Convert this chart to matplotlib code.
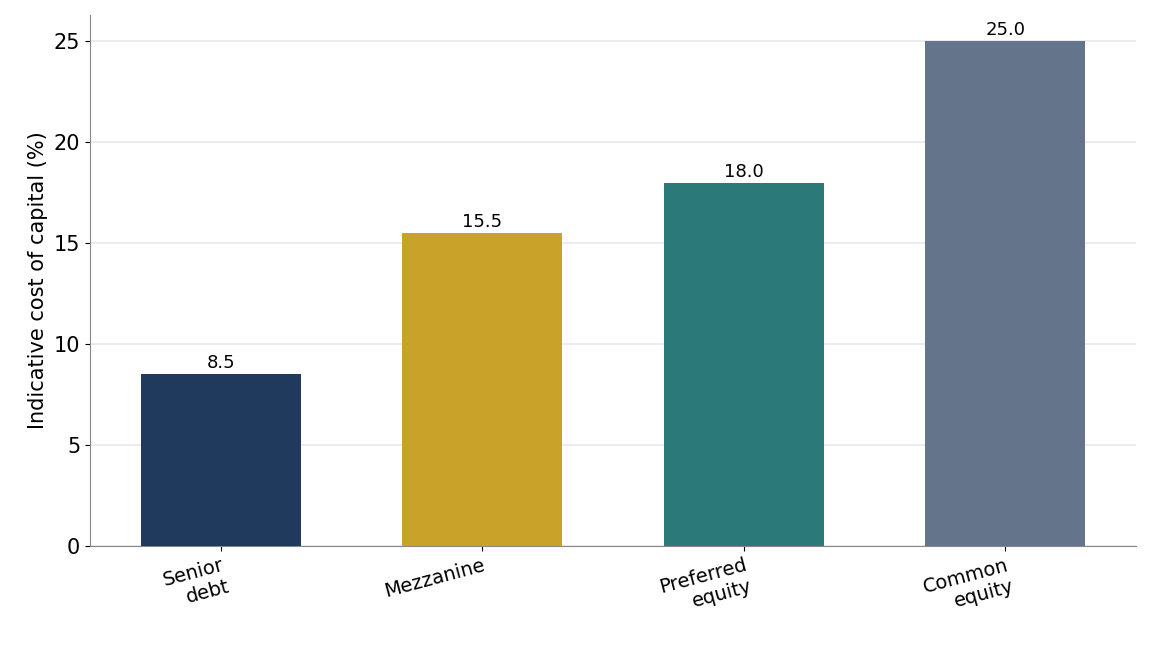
import matplotlib
matplotlib.use("Agg")
import matplotlib.pyplot as plt

categories = ["Senior\ndebt", "Mezzanine", "Preferred\nequity", "Common\nequity"]
values = [8.5, 15.5, 18.0, 25.0]
colors = ["#1f3a5c", "#c9a229", "#2c797a", "#64748b"]

fig = plt.figure(figsize=(11.51, 6.46), dpi=100)
ax = fig.add_axes([90/1151, 100/646, 1046/1151, 531/646])
x = range(len(categories))
bars = ax.bar(x, values, width=0.61, color=colors, zorder=3)
for xi, v in zip(x, values):
    ax.text(xi, v + 0.1, f"{v:.1f}", ha="center", va="bottom", fontsize=13, zorder=4)
ax.set_xlim(-0.5, 3.5)
ax.set_ylim(0, 26.3)
ax.set_yticks([0, 5, 10, 15, 20, 25])
ax.yaxis.grid(True, color="#e5e7eb", linewidth=1.2, zorder=0)
ax.set_axisbelow(True)
ax.set_xticks(list(x))
ax.set_xticklabels(categories, rotation=15, ha="right", rotation_mode="anchor", fontsize=14)
ax.tick_params(axis="y", labelsize=15)
ax.set_ylabel("Indicative cost of capital (%)", fontsize=15)
for s in ["top", "right"]:
    ax.spines[s].set_visible(False)
for s in ["left", "bottom"]:
    ax.spines[s].set_color("#888888")
fig.savefig("out.png", dpi=100)
